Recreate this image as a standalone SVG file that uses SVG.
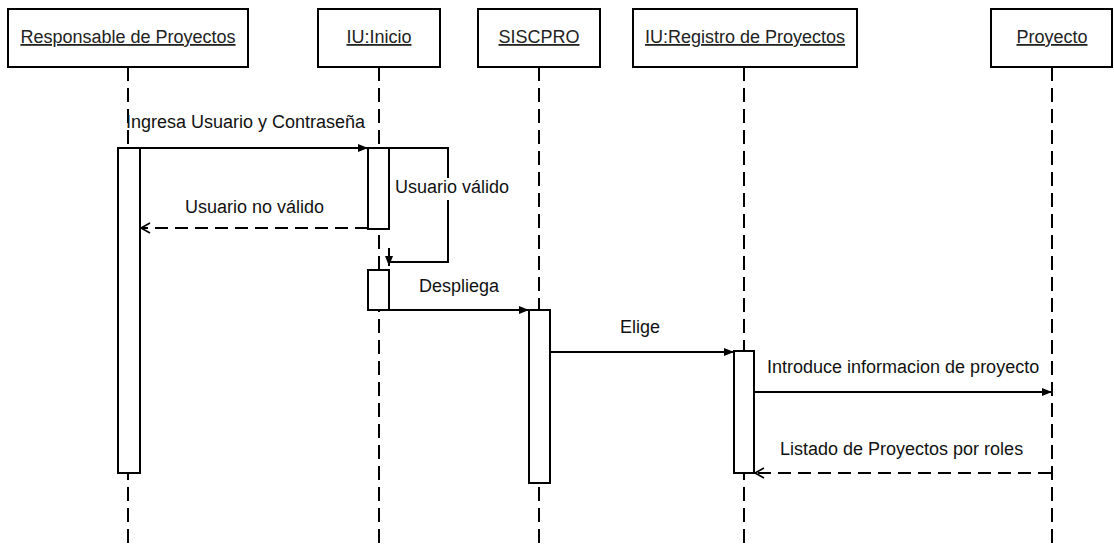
<svg xmlns="http://www.w3.org/2000/svg" width="1114" height="549" viewBox="0 0 1114 549">
  <style>
    .box { fill: #ffffff; stroke: #000000; stroke-width: 2; }
    .act { fill: #ffffff; stroke: #000000; stroke-width: 2; }
    .life { stroke: #000000; stroke-width: 2; stroke-dasharray: 14 7; fill: none; }
    .msg { stroke: #000000; stroke-width: 2; fill: none; }
    .ret { stroke: #000000; stroke-width: 2; fill: none; stroke-dasharray: 13 7; }
    .name { font-family: "Liberation Sans", Arial, sans-serif; font-size: 18px; fill: #222222; text-anchor: middle; text-decoration: underline; }
    .lbl { font-family: "Liberation Sans", Arial, sans-serif; font-size: 18px; fill: #111111; }
  </style>
  <defs>
    <marker id="filled" markerUnits="userSpaceOnUse" markerWidth="10" markerHeight="8" refX="10" refY="4" orient="auto">
      <path d="M0,0 L10,4 L0,8 z" fill="#000000"/>
    </marker>
    <marker id="open" markerUnits="userSpaceOnUse" markerWidth="12" markerHeight="12" refX="10" refY="6" orient="auto">
      <path d="M1,1 L10,6 L1,11" fill="none" stroke="#000000" stroke-width="1.6"/>
    </marker>
  </defs>
  <rect width="1114" height="549" fill="#ffffff"/>

  <!-- lifelines -->
  <g id="lifelines">
    <line class="life" x1="128" y1="67" x2="128" y2="549"/>
    <line class="life" x1="379" y1="67" x2="379" y2="549"/>
    <line class="life" x1="539" y1="67" x2="539" y2="549"/>
    <line class="life" x1="744" y1="67" x2="744" y2="549"/>
    <line class="life" x1="1052" y1="67" x2="1052" y2="549"/>
  </g>

  <!-- participants -->
  <g id="responsable">
    <rect class="box" x="8" y="9" width="240" height="58"/>
    <text class="name" x="128" y="43">Responsable de Proyectos</text>
  </g>
  <g id="iu-inicio">
    <rect class="box" x="318" y="9" width="122" height="58"/>
    <text class="name" x="379" y="43">IU:Inicio</text>
  </g>
  <g id="siscpro">
    <rect class="box" x="478" y="9" width="122" height="58"/>
    <text class="name" x="539" y="43">SISCPRO</text>
  </g>
  <g id="iu-registro">
    <rect class="box" x="633" y="9" width="224" height="58"/>
    <text class="name" x="745" y="43">IU:Registro de Proyectos</text>
  </g>
  <g id="proyecto">
    <rect class="box" x="991" y="9" width="121" height="58"/>
    <text class="name" x="1052" y="43">Proyecto</text>
  </g>

  <!-- activation bars -->
  <g id="activations">
    <rect class="act" x="118" y="148" width="22" height="325"/>
    <rect class="act" x="368" y="148" width="21" height="81"/>
    <rect class="act" x="368" y="270" width="21" height="40"/>
    <rect class="act" x="529" y="310" width="21" height="173"/>
    <rect class="act" x="734" y="351" width="20" height="122"/>
  </g>

  <!-- messages -->
  <g id="connectors">
    <line class="msg" x1="140" y1="148" x2="368" y2="148" marker-end="url(#filled)"/>
    <path class="msg" d="M389,148 H448 V262 H389"/>
    <line class="msg" x1="389" y1="248" x2="389" y2="266" marker-end="url(#filled)"/>
    <line class="ret" x1="368" y1="228" x2="141" y2="228" marker-end="url(#open)"/>
    <line class="msg" x1="389" y1="310" x2="529" y2="310" marker-end="url(#filled)"/>
    <line class="msg" x1="550" y1="352" x2="734" y2="352" marker-end="url(#filled)"/>
    <line class="msg" x1="754" y1="392" x2="1052" y2="392" marker-end="url(#filled)"/>
    <line class="ret" x1="1051" y1="473" x2="755" y2="473" marker-end="url(#open)"/>
  </g>

  <!-- message labels -->
  <g id="labels">
    <rect x="392" y="178" width="118" height="22" fill="#ffffff"/>
    <text class="lbl" x="126" y="128">Ingresa Usuario y Contraseña</text>
    <text class="lbl" x="395" y="193">Usuario válido</text>
    <text class="lbl" x="185" y="213">Usuario no válido</text>
    <text class="lbl" x="419" y="292">Despliega</text>
    <text class="lbl" x="620" y="333">Elige</text>
    <text class="lbl" x="767" y="373">Introduce informacion de proyecto</text>
    <text class="lbl" x="780" y="455">Listado de Proyectos por roles</text>
  </g>
</svg>
